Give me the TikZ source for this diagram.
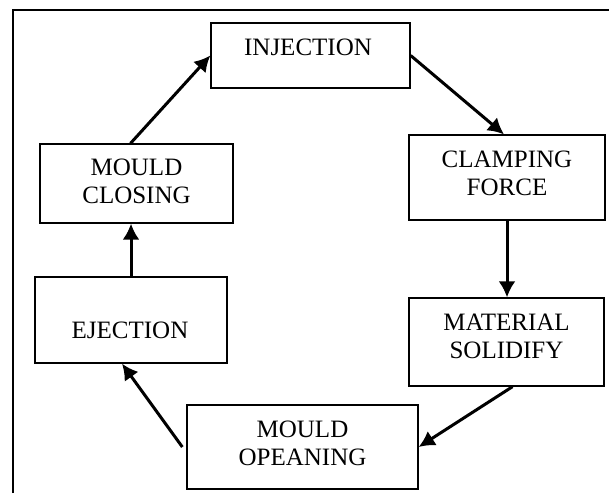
\documentclass[tikz,border=0pt]{standalone}
\usepackage{fontspec}
\setmainfont{Liberation Serif}
\usepackage{tikz}
\usetikzlibrary{arrows.meta}

\tikzset{
	stage/.style={draw, line width=1.3pt, inner sep=0pt},
	stagetext/.style={align=center, inner sep=0pt, font=\fontsize{25}{28}\selectfont},
	flow/.style={line width=3pt, -{Latex[length=16pt,width=17pt]}}
}

\begin{document}
\begin{tikzpicture}[x=1pt, y=-1pt]
		\useasboundingbox (0,0) rectangle (609,493);
		\draw[line width=2.6pt] (13,493) -- (13,10) -- (609,10);
		
		% boxes of the cycle
		\node[stage, minimum width=199pt, minimum height=65pt] (injection) at (310.5,55.5) {};
		\node[stage, minimum width=196pt, minimum height=85pt] (clamping) at (507,177.5) {};
		\node[stage, minimum width=195pt, minimum height=88pt] (material) at (506.5,342) {};
		\node[stage, minimum width=231pt, minimum height=84pt] (opening) at (302.5,447) {};
		\node[stage, minimum width=192pt, minimum height=86pt] (ejection) at (131,320) {};
		\node[stage, minimum width=193pt, minimum height=79pt] (closing) at (136.5,183.5) {};
		
		% texts sit a bit off the middle
		\node[stagetext] (injection-text) at (308,47) {INJECTION};
		\node[stagetext] (clamping-text) at (507,173) {CLAMPING\\FORCE};
		\node[stagetext] (material-text) at (506.5,336) {MATERIAL\\SOLIDIFY};
		\node[stagetext] (opening-text) at (302.5,443.5) {MOULD\\OPEANING};
		\node[stagetext] (ejection-text) at (130,330) {EJECTION};
		\node[stagetext] (closing-text) at (136.5,181) {MOULD\\CLOSING};
		
		\draw[flow] ([xshift=-6pt]closing.north) -- (injection.west);
		\draw[flow] (injection.east) -- ([xshift=-3pt]clamping.north);
		\draw[flow] (clamping.south) -- (clamping.south |- material.north);
		\draw[flow] ([xshift=6pt]material.south) -- (opening.east);
		\draw[flow] ([xshift=-4pt]opening.west) -- ([xshift=-9pt]ejection.south);
		\draw[flow] (ejection.north) -- (ejection.north |- closing.south);
	\end{tikzpicture}
\end{document}
